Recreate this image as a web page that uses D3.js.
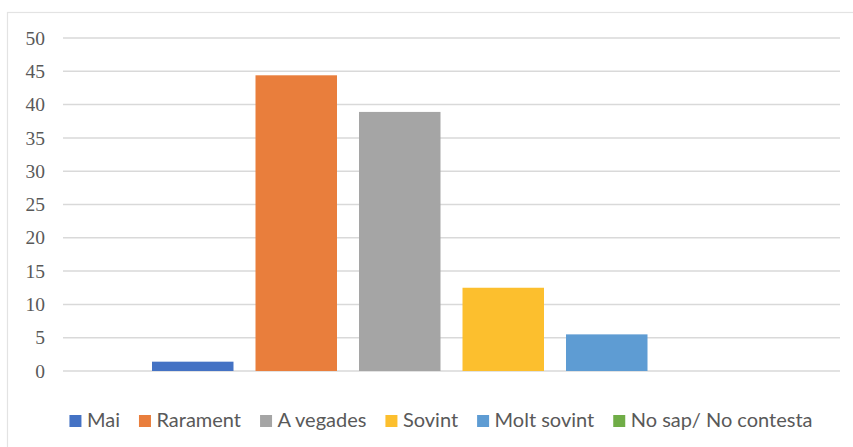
<!DOCTYPE html>
<html>
<head>
<meta charset="utf-8">
<script src="https://cdn.jsdelivr.net/npm/d3@7"></script>
<style>
  html, body { margin: 0; padding: 0; background: #fff; }
  svg { display: block; }
  text.ytick { font-family: "Liberation Serif", "Times New Roman", serif; font-size: 19.5px; fill: #595959; }
  text.leg { font-family: Lato, sans-serif; font-size: 20px; fill: #595959; }
</style>
</head>
<body>
<svg id="chart" width="853" height="447"></svg>
<script>
// Survey answers (percent of respondents)
const categories = [""];
const seriesNames = ["Mai", "Rarament", "A vegades", "Sovint", "Molt sovint", "No sap/ No contesta"];
const seriesValues = [1.4, 44.4, 38.9, 12.5, 5.5, 0];
const seriesColors = ["#4472C4", "#E97E3C", "#A5A5A5", "#FCBF2E", "#5E9CD3", "#70AD47"];
const yTicks = [0, 5, 10, 15, 20, 25, 30, 35, 40, 45, 50];

const svg = d3.select("#chart");
const plot = { left: 63, right: 840, top: 38, bottom: 371 };

// outer frame of the chart area
svg.append("rect")
  .attr("x", 7.5).attr("y", 12.5)
  .attr("width", 900).attr("height", 500)
  .attr("fill", "#fff")
  .attr("stroke", "#e3e3e3").attr("stroke-width", 1.2);

const y = d3.scaleLinear().domain([0, 50]).range([plot.bottom, plot.top]);

const x0 = d3.scaleBand().domain(categories)
  .range([plot.left, plot.right]).paddingInner(0).paddingOuter(0.1256);
const x1 = d3.scaleBand().domain(seriesNames)
  .range([0, x0.bandwidth()]).paddingInner(0.2126).paddingOuter(0.1063);

// horizontal gridlines
svg.append("g")
  .selectAll("line")
  .data(yTicks)
  .join("line")
  .attr("x1", plot.left).attr("x2", plot.right)
  .attr("y1", d => y(d)).attr("y2", d => y(d))
  .attr("stroke", "#d9d9d9").attr("stroke-width", 1.5);

// y tick labels (serif, right-aligned)
svg.append("g")
  .selectAll("text")
  .data(yTicks)
  .join("text")
  .attr("class", "ytick")
  .attr("x", 45)
  .attr("y", d => y(d))
  .attr("dy", "0.34em")
  .attr("text-anchor", "end")
  .text(d => d);

// bars
const rows = seriesNames.map((s, i) => ({ cat: categories[0], name: s, value: seriesValues[i], color: seriesColors[i] }));
svg.append("g")
  .selectAll("rect")
  .data(rows)
  .join("rect")
  .attr("x", d => x0(d.cat) + x1(d.name))
  .attr("width", x1.bandwidth())
  .attr("y", d => y(d.value))
  .attr("height", d => y(0) - y(d.value))
  .attr("fill", d => d.color);

// legend
const legend = svg.append("g");
const items = legend.selectAll("g").data(rows).join("g");
items.append("rect")
  .attr("width", 12).attr("height", 12)
  .attr("y", -12)
  .attr("fill", d => d.color);
items.append("text")
  .attr("class", "leg")
  .attr("x", 17.5)
  .attr("y", 0)
  .text(d => d.name);

let cx = 0;
const gap = 19;
items.each(function () {
  const g = d3.select(this);
  const w = 17.5 + g.select("text").node().getComputedTextLength();
  g.attr("transform", `translate(${cx},0)`);
  cx += w + gap;
});
const total = cx - gap;
legend.attr("transform", `translate(${(70 + 812) / 2 - total / 2},427)`);
</script>
</body>
</html>
